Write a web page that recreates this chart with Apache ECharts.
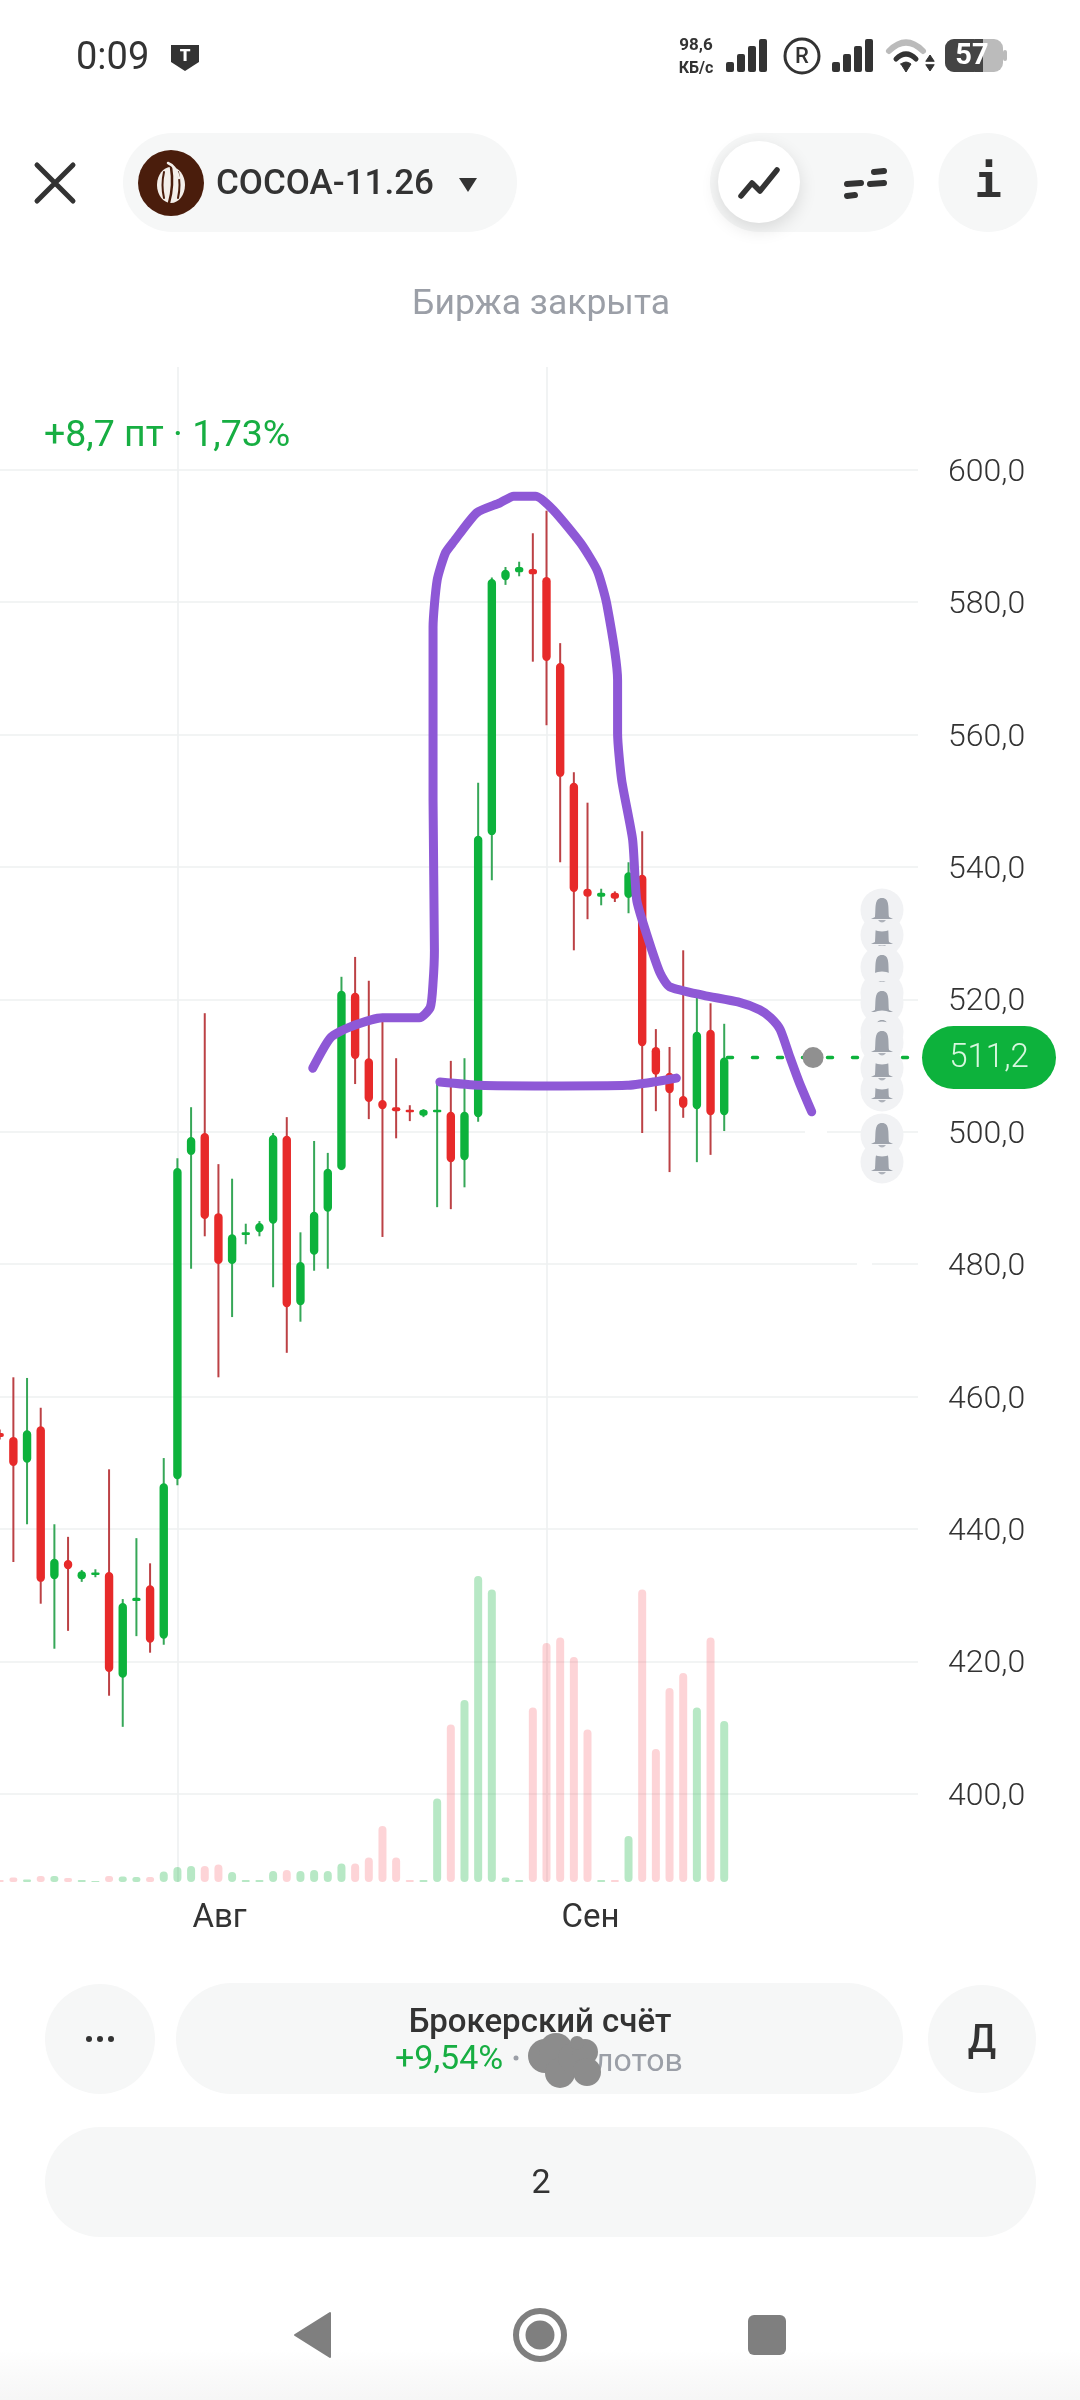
<!DOCTYPE html>
<html lang="ru">
<head>
<meta charset="utf-8">
<title>COCOA-11.26</title>
<style>html,body{margin:0;padding:0;background:#fff}#chart{width:1080px;height:2400px}</style>
<script src="https://cdn.jsdelivr.net/npm/echarts@6/dist/echarts.min.js"></script>
</head>
<body>
<div id="chart"></div>
<script>
// ---- data ----
const opens  = [454.5,453.9,450.0,455.5,432.4,435.3,432.4,433.3,433.5,417.5,429.1,431.5,423.4,447.5,496.5,499.8,487.7,480.0,484.4,484.8,486.1,499.4,473.8,481.4,487.9,494.2,521.0,511.1,504.8,503.7,503.3,502.4,503.2,503.0,495.7,502.2,544.8,583.3,584.5,585.0,583.8,570.8,552.7,536.7,535.5,536.1,535.3,538.8,512.8,508.9,505.4,503.4,515.4,502.5];
const closes = [453.9,449.5,454.9,432.0,435.5,433.9,433.6,433.4,418.4,428.8,429.6,422.8,446.9,494.5,499.2,486.8,480.0,484.5,484.8,486.2,499.5,473.5,480.3,487.9,494.4,521.3,511.0,504.5,503.4,503.1,503.1,503.3,503.3,495.4,503.0,544.7,583.5,584.9,585.3,584.2,571.1,553.6,536.2,535.5,536.1,535.2,539.2,512.9,508.6,505.8,503.6,515.1,502.5,511.2];
const lows   = [453.5,435.0,440.7,428.7,421.9,424.6,432.0,432.7,414.8,410.1,423.8,421.3,422.5,446.6,479.3,484.2,462.9,472.0,483.0,484.2,476.5,466.6,471.3,479.0,479.3,494.2,507.2,501.9,484.1,499.0,501.6,502.2,488.6,488.3,491.6,501.5,538.0,582.6,583.9,571.0,561.4,540.7,527.4,532.1,534.2,534.7,533.0,499.8,503.1,493.9,502.1,495.4,496.5,500.1];
const highs  = [455.0,462.9,462.8,458.3,440.7,438.8,433.8,433.9,449.0,429.4,438.6,434.8,450.7,496.0,503.7,517.9,495.1,492.9,486.1,486.5,499.8,502.2,484.8,498.6,496.8,523.4,526.4,522.8,517.6,511.1,504.0,503.4,507.8,510.7,511.1,552.7,583.7,585.3,586.1,590.4,593.8,573.8,554.3,549.7,536.7,536.3,540.7,545.4,515.5,512.8,527.4,520.2,519.4,516.3];
const volumes = [2,4.5,2.5,6,6,4,2,1,6,5.5,5,5,10.5,15,16,16,17.5,10,2,2,11,12,11,12,11,18.5,18.5,24.5,56,24.5,2,2,83.5,157.5,182,306,292.5,4.5,2,174.5,239,244.5,225,152.5,2,2,46,292.5,133,194,209,174.5,244.5,161];
const priceTicksMin = 400, priceTicksMax = 600, priceStep = 20;
const monthLabels = {13:'Авг', 40:'Сен'};
const lastPrice = 511.2;
const dottedFrom = [53.24, lastPrice], dottedTo = [67.18, lastPrice];
const alertDot = [59.5, lastPrice];
// hand-drawn purple annotation: [candle index, price]
const strokeOne = [[22.9,509.6],[24.2,514.2],[25.6,515.8],[28.0,517.2],[30.7,517.2],[31.5,518.8],[31.7,522.5],[31.8,527.4],[31.7,550.1],[31.7,558.1],[31.7,576.2],[32.0,583.3],[32.6,587.4],[33.2,589.1],[34.9,593.5],[36.6,595.0],[37.6,596.0],[39.2,596.0],[40.5,593.9],[42.5,588.9],[43.7,584.8],[44.4,579.8],[45.2,568.2],[45.2,560.2],[45.5,553.1],[46.3,544.1],[46.6,535.0],[47.3,530.0],[48.3,524.0],[49.0,521.9],[51.5,520.6],[54.0,519.6],[55.6,518.4],[56.4,517.2],[57.1,515.4],[57.8,511.3],[58.5,507.4],[59.4,503.0]];
const strokeTwo = [[32.2,507.5],[35.1,507.0],[40.0,506.9],[45.9,507.0],[47.8,507.5],[49.5,508.1]];

// ---- styles ----
const GREEN='#0DB23C', RED='#E72A2A', WICK_G='#36A758', WICK_R='#BC4145';
const VOL_G='rgba(16,178,62,0.30)', VOL_R='rgba(245,60,75,0.22)';
const PURPLE='#8E58D6', INK='#333333', PILL='#F6F7F7', GREY='#9B9FA7';
const BAND=13.67, SLOTS=68, GRID_LEFT=-7.13, GRID_W=BAND*SLOTS;
const categories = Array.from({length:SLOTS},(_,i)=>String(i));
const candles = opens.map((o,i)=>[i,o,closes[i],lows[i],highs[i]]);

// ---- decorations: app chrome drawn with ECharts graphic elements ----
let zc = 100, pc = 0; const g = [];
const add = (o)=>{o.z = zc++; g.push(o);};
const rr = (x,y,w,h,r,fill,extra)=>add({type:'rect',shape:{x,y,width:w,height:h,r},style:Object.assign({fill},extra||{})});
const circ = (cx,cy,r,style)=>add({type:'circle',shape:{cx,cy,r},style});
const pathType = (d)=>{const n='decor'+(pc++); echarts.graphic.registerShape(n,echarts.graphic.extendPath(d,{})); return n;};
const line = (d,stroke,lw,fill)=>add({type:pathType(d),style:{stroke:stroke||null,lineWidth:lw||0,fill:fill||null,lineCap:'round',lineJoin:'round'}});
const txt = (text,x,y,font,fill,align)=>add({type:'text',style:{text,x,y:y+2.5,font,fill,align:align||'center',verticalAlign:'middle'}});
const F='Roboto, sans-serif';

// gaps erased in the gridlines
rr(805,1129,22,5,0,'#fff'); rr(857,1262,15,5,0,'#fff');

// status bar
txt('0:09',76,57,`400 38px ${F}`,INK,'left');
line('M171 45 H199 V62 L185 71 L171 62 Z',null,0,INK);
txt('Т',185,54,`900 17px ${F}`,'#fff');
txt('98,6',696,43,`700 17px ${F}`,INK);
txt('КБ/с',696,66,`700 16px ${F}`,INK);
[[726,62],[737,54],[748,46],[759,39]].forEach(b=>rr(b[0],b[1],8,72-b[1],2,INK));
circ(802,56,17,{fill:'none',stroke:INK,lineWidth:3});
txt('R',802,55,`500 22px ${F}`,INK);
[[832,62],[843,54],[854,46],[865,39]].forEach(b=>rr(b[0],b[1],8,72-b[1],2,INK));
line('M889 51 Q906 34 923 51','#BBBBBB',6);
line('M896 59 Q906 49 916 59',INK,5);
line('M901 64 L906 72 L911 64 Q906 60 901 64 Z',INK,1,INK);
line('M926 61 L930 55 L934 61 Z',INK,1,INK);
line('M926 65 L930 71 L934 65 Z',INK,1,INK);
rr(945,39,58,33,9,'#BBBBBB');
rr(1003,50,4,11,2,'#BBBBBB');
rr(945,39,38,33,9,'#444444');
rr(975,39,8,33,0,'#444444');
txt('57',972,54,`700 29px ${F}`,'#fff');

// header
line('M37 165 L73 201 M73 165 L37 201',INK,5);
rr(123,133,394,99,49.5,PILL);
circ(171,183,33,{fill:'#4A1D0C'});
add({type:'ellipse',shape:{cx:171,cy:185,rx:14,ry:18},style:{fill:'#F4EFEA'}});
line('M171 167 Q174 185 169 203','#4A1D0C',2.5);
line('M164 172 Q161 185 164 198','#4A1D0C',2);
line('M178 172 Q181 185 178 198','#4A1D0C',2);
line('M168 163 Q176 166 179 178','#F4EFEA',2.5);
txt('COCOA-11.26',216,183,`500 35px ${F}`,INK,'left');
line('M459 178 H477 L468 192 Z',null,0,INK);
rr(710,133,204,99,49.5,PILL);
add({type:'circle',shape:{cx:759,cy:182,r:41},style:{fill:'#fff',shadowBlur:18,shadowColor:'rgba(0,0,0,0.12)',shadowOffsetY:6}});
line('M741 196 L752 183 L760 191 L777 170',INK,5.5);
line('M874 172 L884 171 M847 184 L861 183 M870 184 L884 183 M847 196 L855 195',INK,6);
circ(988,182.5,49.5,{fill:PILL});
txt('i',988,183,`700 46px "DejaVu Sans Mono", monospace`,INK);
txt('Биржа закрыта',541,303,`400 35.5px ${F}`,GREY);
txt('+8,7 пт · 1,73%',44,434.5,`400 37.5px ${F}`,'#17AE42','left');

// alert bells (later ones are painted over earlier ones)
const drawBell=(cy)=>{
  circ(882,cy,21.5,{fill:'#F1F2F4'});
  line(`M875 ${cy+7} C876 ${cy-2} 874 ${cy-12} 882 ${cy-12} C890 ${cy-12} 888 ${cy-2} 889 ${cy+7} L893 ${cy+9} H871 Z`,null,0,'#9DA2AB');
  line(`M878 ${cy+10} H886 Q882 ${cy+15} 878 ${cy+10} Z`,null,0,'#AEB2BA');
};
[935,910,1090,1068,967,993,1003,1032,1043,1162,1135].forEach(drawBell);

// last price pill
rr(922,1026,134,63,31.5,'#0DB23C');
txt('511,2',989,1056,`300 33px ${F}`,'#D8F7DF');

// bottom controls
circ(100,2039,55,{fill:PILL});
[89,100,111].forEach(x=>circ(x,2039,3,{fill:INK}));
rr(176,1983,727,111,55.5,PILL);
txt('Брокерский счёт',540,2021,`500 33px ${F}`,INK);
txt('+9,54%',395,2058,`400 34px ${F}`,'#17AE42','left');
circ(516,2058,2.5,{fill:GREY});
txt('лотов',595,2060,`400 32px ${F}`,GREY,'left');
[[545,2056,17],[556,2050,17],[560,2073,15],[573,2058,15],[585,2052,13],[587,2072,14],[577,2043,7]].forEach(c=>circ(c[0],c[1],c[2],{fill:'#8C8C8C'}));
circ(982,2039,54,{fill:PILL});
txt('Д',982,2040,`500 38px ${F}`,INK);
rr(45,2127,991,110,55,PILL);
txt('2',541,2182,`400 34px ${F}`,INK);

// navigation bar
add({type:'rect',shape:{x:0,y:2350,width:1080,height:50},style:{fill:new echarts.graphic.LinearGradient(0,0,0,1,[{offset:0,color:'#FFFFFF'},{offset:0.4,color:'#FBFBFB'},{offset:1,color:'#F6F6F6'}])}});
line('M330 2313 V2357 L295 2335 Z','#7F7F7F',2,'#7F7F7F');
circ(540,2335,24,{fill:'none',stroke:'#7F7F7F',lineWidth:6});
circ(540,2335,14.5,{fill:'#7F7F7F'});
rr(748,2315,38,40,6,'#7F7F7F');

// ---- chart ----
const yPriceAxis = (idx,extra)=>Object.assign({gridIndex:idx,type:'value',min:priceTicksMin,max:priceTicksMax,interval:priceStep,
  axisLine:{show:false},axisTick:{show:false},axisLabel:{show:false},splitLine:{show:false}},extra||{});

const option = {
  animation:false,
  backgroundColor:'#fff',
  grid:[
    {left:0,top:469.7,width:918,height:1324,outerBoundsMode:'none'},                    // price gridlines
    {left:GRID_LEFT,top:469.7,width:GRID_W,height:1324,outerBoundsMode:'none'},          // candles
    {left:GRID_LEFT,top:367,width:GRID_W,height:1515,outerBoundsMode:'none'},            // month lines and labels
    {left:GRID_LEFT,top:1540,width:GRID_W,height:342,outerBoundsMode:'none'},            // volume
    {left:0,top:472.7,width:918,height:1324,outerBoundsMode:'none'}                      // price labels, set just below the lines
  ],
  xAxis:[
    {gridIndex:0,type:'value',min:0,max:1,show:false},
    {gridIndex:1,type:'category',data:categories,show:false},
    {gridIndex:1,type:'value',min:-0.5,max:SLOTS-0.5,show:false},
    {gridIndex:2,type:'category',data:categories,boundaryGap:true,
      axisLine:{show:false},axisTick:{show:false},
      splitLine:{show:false},
      axisLabel:{show:true,interval:(i)=>monthLabels[i]!==undefined,formatter:(v,i)=>monthLabels[i]||'',
        align:'left',padding:[0,0,0,15],margin:20,color:INK,fontFamily:'Roboto',fontSize:33,fontWeight:400,hideOverlap:false}},
    {gridIndex:3,type:'category',data:categories,show:false},
    {gridIndex:4,type:'value',min:0,max:1,show:false}
  ],
  yAxis:[
    yPriceAxis(0,{splitLine:{show:true,lineStyle:{color:'#EEF0F1',width:1.6}}}),
    yPriceAxis(1),
    {gridIndex:2,type:'value',min:0,max:1,show:false},
    {gridIndex:3,type:'value',min:0,max:342,show:false},
    yPriceAxis(4,{position:'right',
      axisLabel:{show:true,margin:30,align:'left',color:INK,fontFamily:'Roboto',fontSize:32,fontWeight:300,
        formatter:(v)=>v.toFixed(1).replace('.',',')}})
  ],
  series:[
    {type:'line',name:'месяцы',xAxisIndex:3,yAxisIndex:2,data:[],silent:true,z:1,
      markLine:{silent:true,z:1,symbol:'none',label:{show:false},animation:false,
        lineStyle:{color:'#EEF0F1',width:1.6,type:'solid'},
        data:Object.keys(monthLabels).map(k=>({xAxis:String(k)}))}},
    {type:'bar',name:'Объём',xAxisIndex:4,yAxisIndex:3,barWidth:8,z:2,
      data:volumes.map((v,i)=>({value:v,itemStyle:{color:closes[i]>=opens[i]?VOL_G:VOL_R,borderRadius:4}}))},
    {type:'custom',name:'COCOA-11.26',xAxisIndex:1,yAxisIndex:1,clip:false,z:3,
      encode:{x:0,y:[1,2,3,4]},data:candles,
      renderItem:(params,api)=>{
        const i=api.value(0), o=api.value(1), c=api.value(2), l=api.value(3), h=api.value(4);
        const up=c>=o;
        const pO=api.coord([i,o]), pC=api.coord([i,c]), pL=api.coord([i,l]), pH=api.coord([i,h]);
        const x=pO[0], w=8.4;
        const top=Math.min(pO[1],pC[1]), bh=Math.max(Math.abs(pO[1]-pC[1]),2.5);
        return {type:'group',children:[
          {type:'rect',shape:{x:x-1,y:pH[1],width:2,height:pL[1]-pH[1]},style:{fill:up?WICK_G:WICK_R}},
          {type:'rect',shape:{x:x-w/2,y:top,width:w,height:bh,r:Math.min(bh/2,4.2)},style:{fill:up?GREEN:RED}}
        ]};
      }},
    {type:'line',name:'Последняя цена',xAxisIndex:2,yAxisIndex:1,data:[dottedFrom,dottedTo],symbol:'none',silent:true,z:4,clip:false,
      lineStyle:{color:GREEN,width:3.5,type:[5,20],cap:'round'}},
    {type:'scatter',name:'Метка',xAxisIndex:2,yAxisIndex:1,data:[alertDot],symbol:'circle',symbolSize:21,silent:true,z:5,
      itemStyle:{color:'#909090',opacity:1}},
    {type:'line',name:'Пометка 1',xAxisIndex:2,yAxisIndex:1,data:strokeOne,symbol:'none',smooth:0.2,silent:true,z:6,clip:false,
      lineStyle:{color:PURPLE,width:9,cap:'round',join:'round'}},
    {type:'line',name:'Пометка 2',xAxisIndex:2,yAxisIndex:1,data:strokeTwo,symbol:'none',smooth:0.2,silent:true,z:6,clip:false,
      lineStyle:{color:PURPLE,width:9,cap:'round',join:'round'}}
  ],
  graphic:{elements:g}
};
const chart = echarts.init(document.getElementById('chart'),null,{renderer:'canvas',width:1080,height:2400});
chart.setOption(option);
</script>
</body>
</html>
